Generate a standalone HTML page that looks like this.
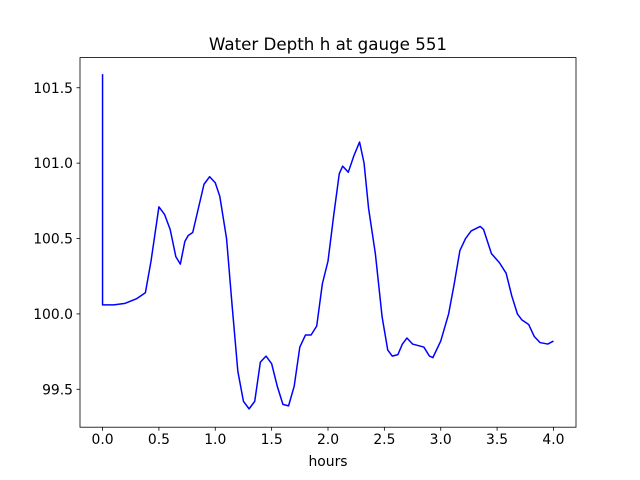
<!DOCTYPE html>
<html><head><meta charset="utf-8"><style>
body{margin:0;background:#fff;}
svg{display:block;font-family:"DejaVu Sans","Liberation Sans",sans-serif;}
</style></head><body>
<svg id="chart" width="640" height="480" viewBox="0 0 640 480"></svg>
<script>
const times=[0,0,0.1,0.2,0.3,0.38,0.43,0.5,0.55,0.6,0.65,0.69,0.73,0.76,0.8,0.85,0.9,0.95,1.0,1.04,1.1,1.15,1.2,1.25,1.3,1.35,1.4,1.45,1.5,1.55,1.6,1.65,1.7,1.75,1.8,1.85,1.9,1.95,2.0,2.05,2.1,2.13,2.18,2.23,2.28,2.32,2.36,2.42,2.48,2.53,2.57,2.62,2.66,2.7,2.75,2.8,2.85,2.9,2.93,3.0,3.07,3.12,3.17,3.22,3.27,3.35,3.38,3.45,3.52,3.58,3.63,3.68,3.72,3.78,3.83,3.88,3.95,4.0];
const depth=[101.59,100.06,100.06,100.07,100.10,100.14,100.35,100.71,100.66,100.56,100.38,100.33,100.48,100.52,100.54,100.70,100.86,100.91,100.87,100.78,100.50,100.05,99.62,99.42,99.37,99.42,99.68,99.72,99.67,99.52,99.40,99.39,99.52,99.78,99.86,99.86,99.92,100.2,100.35,100.65,100.93,100.98,100.94,101.05,101.14,101.0,100.7,100.4,99.98,99.76,99.72,99.73,99.80,99.84,99.80,99.79,99.78,99.72,99.71,99.82,100.0,100.2,100.42,100.50,100.55,100.58,100.56,100.40,100.34,100.27,100.12,100.0,99.96,99.93,99.85,99.81,99.80,99.82];
const xTicks=[0,0.5,1,1.5,2,2.5,3,3.5,4];
const xTickLabels=["0.0","0.5","1.0","1.5","2.0","2.5","3.0","3.5","4.0"];
const yTicks=[99.5,100,100.5,101,101.5];
const yTickLabels=["99.5","100.0","100.5","101.0","101.5"];

const L=80,R=576,T=57.6,B=427.2;
const xMin=-0.2,xMax=4.2,yMin=99.2485,yMax=101.70;
const X=v=>L+(v-xMin)/(xMax-xMin)*(R-L);
const Y=v=>B-(v-yMin)/(yMax-yMin)*(B-T);
const svg=document.getElementById('chart');
const NS='http://www.w3.org/2000/svg';
function mk(tag,attrs,parent){const e=document.createElementNS(NS,tag);for(const k in attrs)e.setAttribute(k,attrs[k]);(parent||svg).appendChild(e);return e;}

let d='';
times.forEach((t,i)=>{d+=(i?'L':'M')+X(t).toFixed(2)+','+Y(depth[i]).toFixed(2);});
const line=mk('path',{d:d,fill:'none',stroke:'#0000ff','stroke-width':1.5,'stroke-linejoin':'round'});



const frame=mk('rect',{x:L,y:T,width:R-L,height:B-T,fill:'none',stroke:'#000','stroke-width':0.8});



xTicks.forEach((v,i)=>{
  const x=X(v);
  const tk=mk('line',{x1:x,x2:x,y1:B,y2:B+3.5,stroke:'#000','stroke-width':0.8});
  
  
  const tx=mk('text',{x:x,y:B+17,'text-anchor':'middle','font-size':13.9,fill:'#000'});
  tx.textContent=xTickLabels[i];
  
  
});
yTicks.forEach((v,i)=>{
  const y=Y(v);
  const tk=mk('line',{x1:L-3.5,x2:L,y1:y,y2:y,stroke:'#000','stroke-width':0.8});
  
  
  const tx=mk('text',{x:L-7,y:y+5,'text-anchor':'end','font-size':13.9,fill:'#000'});
  tx.textContent=yTickLabels[i];
  
  
});
const xl=mk('text',{x:(L+R)/2,y:466,'text-anchor':'middle','font-size':13.9,fill:'#000'});
xl.textContent='hours';


const ti=mk('text',{x:(L+R)/2,y:50,'text-anchor':'middle','font-size':16.7,fill:'#000'});
ti.textContent='Water Depth h at gauge 551';


</script>
</body></html>
